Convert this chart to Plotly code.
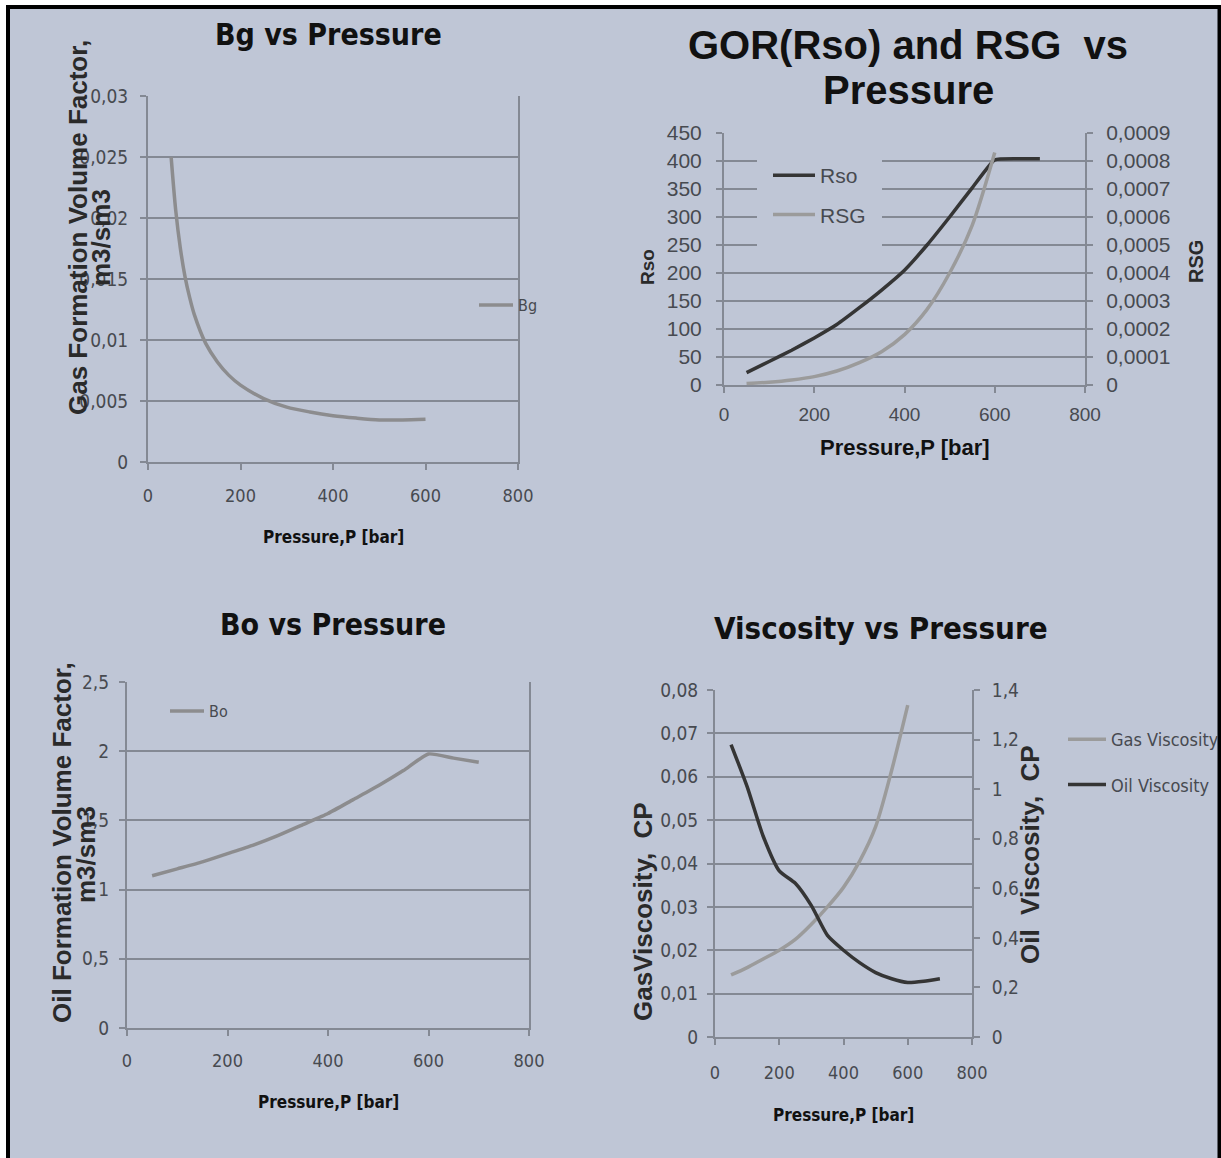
import plotly.graph_objects as go

W, H = 1221, 1158

# ---------------- data ----------------
P_TICKS = [0, 200, 400, 600, 800]
P_TICK_LABELS = ["0", "200", "400", "600", "800"]

# Bg vs Pressure
P_BG = [50, 60, 70, 80, 90, 100, 125, 150, 175, 200, 250, 300, 350, 400, 450, 500, 550, 600]
BG = [0.0250, 0.0206, 0.0175, 0.0152, 0.0135, 0.0121, 0.0097, 0.0082, 0.0071, 0.0063,
      0.0052, 0.0045, 0.0041, 0.0038, 0.0036, 0.00345, 0.00345, 0.0035]
BG_TICKS = [0, 0.005, 0.01, 0.015, 0.02, 0.025, 0.03]
BG_TICK_LABELS = ["0", "0,005", "0,01", "0,015", "0,02", "0,025", "0,03"]

# GOR (Rso) and RSG vs Pressure
P_RSO = [50, 100, 150, 200, 250, 300, 350, 400, 450, 500, 550, 600, 650, 700]
RSO = [22, 42, 62, 84, 108, 138, 170, 205, 250, 300, 352, 402, 404, 404]
P_RSG = [50, 100, 150, 200, 250, 300, 350, 400, 450, 500, 550, 600]
RSG = [0.000005, 0.00001, 0.000018, 0.00003, 0.00005, 0.00008, 0.00012, 0.00018,
       0.00027, 0.0004, 0.00057, 0.00083]
RSO_TICKS = [0, 50, 100, 150, 200, 250, 300, 350, 400, 450]
RSO_TICK_LABELS = [str(v) for v in RSO_TICKS]
RSG_TICKS = [0, 0.0001, 0.0002, 0.0003, 0.0004, 0.0005, 0.0006, 0.0007, 0.0008, 0.0009]
RSG_TICK_LABELS = ["0", "0,0001", "0,0002", "0,0003", "0,0004", "0,0005", "0,0006",
                   "0,0007", "0,0008", "0,0009"]

# Bo vs Pressure
P_BO = [50, 100, 150, 200, 250, 300, 350, 400, 450, 500, 550, 600, 650, 700]
BO = [1.10, 1.15, 1.20, 1.26, 1.32, 1.39, 1.47, 1.55, 1.65, 1.75, 1.86, 1.98, 1.95, 1.92]
BO_TICKS = [0, 0.5, 1, 1.5, 2, 2.5]
BO_TICK_LABELS = ["0", "0,5", "1", "1,5", "2", "2,5"]

# Viscosity vs Pressure
P_GASV = [50, 100, 150, 200, 250, 300, 350, 400, 450, 500, 550, 600]
GAS_VISC = [0.0143, 0.0160, 0.0180, 0.0200, 0.0225, 0.0260, 0.0300, 0.0345, 0.0405,
            0.0485, 0.0615, 0.0765]
P_OILV = [50, 100, 150, 200, 250, 300, 350, 400, 450, 500, 550, 600, 650, 700]
OIL_VISC = [1.18, 1.01, 0.81, 0.67, 0.62, 0.53, 0.41, 0.35, 0.30, 0.26, 0.235, 0.22,
            0.225, 0.235]
GASV_TICKS = [0, 0.01, 0.02, 0.03, 0.04, 0.05, 0.06, 0.07, 0.08]
GASV_TICK_LABELS = ["0", "0,01", "0,02", "0,03", "0,04", "0,05", "0,06", "0,07", "0,08"]
OILV_TICKS = [0, 0.2, 0.4, 0.6, 0.8, 1, 1.2, 1.4]
OILV_TICK_LABELS = ["0", "0,2", "0,4", "0,6", "0,8", "1", "1,2", "1,4"]

# ---------------- styles ----------------
BG_COL = "#bfc6d6"
GRID = "#848994"
TICKCOL = "#474a50"
TITLECOL = "#111111"
NARROW = "DejaVu Sans Condensed, sans-serif"
REG = "Liberation Sans, Arial, sans-serif"
LIGHT = "#9b9b9b"
MID = "#8c8c8e"
DARK = "#353535"


def fx(px):
    return px / W


def fy(py):
    return 1 - py / H


def xcfg(x0, x1, anchor, font, size, standoff):
    return dict(domain=[fx(x0), fx(x1)], anchor=anchor, range=[0, 800],
                tickvals=P_TICKS, ticktext=P_TICK_LABELS, showgrid=False,
                zeroline=False, showline=True, linecolor=GRID, linewidth=2,
                ticks="outside", ticklen=6, tickcolor=GRID, tickwidth=2,
                ticklabelstandoff=standoff,
                tickfont=dict(family=font, size=size, color=TICKCOL))


def ycfg(y0, y1, anchor, rng, tv, tt, font, size, standoff, mirror=False):
    return dict(domain=[fy(y1), fy(y0)], anchor=anchor, range=rng, tickvals=tv,
                ticktext=tt, showgrid=True, gridcolor=GRID, gridwidth=2,
                zeroline=False, showline=True, linecolor=GRID, linewidth=2,
                mirror=mirror, ticks="outside", ticklen=6, tickcolor=GRID,
                tickwidth=2, ticklabelstandoff=standoff,
                tickfont=dict(family=font, size=size, color=TICKCOL))


fig = go.Figure()

# Bg
fig.add_trace(go.Scatter(x=P_BG, y=BG, name="Bg", mode="lines",
                         line=dict(color=MID, width=3.5, shape="spline", smoothing=0.8),
                         xaxis="x", yaxis="y", legend="legend"))
# GOR
fig.add_trace(go.Scatter(x=P_RSO, y=RSO, name="Rso", mode="lines", legendgroup="a",
                         line=dict(color=DARK, width=3.5, shape="spline", smoothing=0.4),
                         xaxis="x2", yaxis="y2", legend="legend2"))
fig.add_trace(go.Scatter(x=P_RSG, y=RSG, name="RSG", mode="lines", legendgroup="b",
                         line=dict(color=LIGHT, width=3.5, shape="spline", smoothing=0.8),
                         xaxis="x2", yaxis="y3", legend="legend2"))
# Bo
fig.add_trace(go.Scatter(x=P_BO, y=BO, name="Bo", mode="lines",
                         line=dict(color=MID, width=3.5, shape="spline", smoothing=0.5),
                         xaxis="x3", yaxis="y4", legend="legend3"))
# Viscosity
fig.add_trace(go.Scatter(x=P_GASV, y=GAS_VISC, name="Gas Viscosity", mode="lines",
                         legendgroup="g",
                         line=dict(color=LIGHT, width=3.5, shape="spline", smoothing=0.8),
                         xaxis="x4", yaxis="y5", legend="legend4"))
fig.add_trace(go.Scatter(x=P_OILV, y=OIL_VISC, name="Oil Viscosity", mode="lines",
                         legendgroup="o",
                         line=dict(color=DARK, width=3.5, shape="spline", smoothing=0.6),
                         xaxis="x4", yaxis="y6", legend="legend4"))

layout = dict(
    width=W, height=H, margin=dict(l=0, r=0, t=0, b=0, autoexpand=False),
    paper_bgcolor="white", plot_bgcolor="rgba(0,0,0,0)",
    separators=", ", showlegend=True,
    # Bg
    xaxis=xcfg(148, 518, "y", NARROW, 18, 10),
    yaxis=ycfg(96, 462, "x", [0, 0.03], BG_TICKS, BG_TICK_LABELS, NARROW, 19, 8, True),
    # GOR
    xaxis2=xcfg(724, 1085, "y2", REG, 19, 5),
    yaxis2=ycfg(133, 385, "x2", [0, 450], RSO_TICKS, RSO_TICK_LABELS, REG, 21, 10),
    # Bo
    xaxis3=xcfg(127, 529, "y4", NARROW, 18, 9),
    yaxis4=ycfg(682, 1028, "x3", [0, 2.5], BO_TICKS, BO_TICK_LABELS, NARROW, 19, 6, True),
    # Viscosity
    xaxis4=xcfg(715, 972, "y5", NARROW, 18, 12),
    yaxis5=ycfg(690, 1037, "x4", [0, 0.08], GASV_TICKS, GASV_TICK_LABELS, NARROW, 19, 5),
)
rsg_axis = ycfg(133, 385, "x2", [0, 0.0009], RSG_TICKS, RSG_TICK_LABELS, REG, 21, 9)
rsg_axis.update(overlaying="y2", side="right", showgrid=False)
layout["yaxis3"] = rsg_axis
oil_axis = ycfg(690, 1037, "x4", [0, 1.4], OILV_TICKS, OILV_TICK_LABELS, NARROW, 19, 8)
oil_axis.update(overlaying="y5", side="right", showgrid=False)
layout["yaxis6"] = oil_axis

leg_common = dict(bgcolor="rgba(0,0,0,0)", borderwidth=0, xanchor="left", yanchor="top",
                  itemwidth=30, tracegroupgap=0, visible=True)
layout["legend"] = dict(leg_common, x=fx(474), y=fy(288), itemwidth=34,
                        font=dict(family=NARROW, size=16, color=TICKCOL))
layout["legend2"] = dict(leg_common, x=fx(768), y=fy(155), tracegroupgap=9, itemwidth=42,
                         bgcolor=BG_COL,
                         font=dict(family=REG, size=21, color=TICKCOL))
layout["legend3"] = dict(leg_common, x=fx(165), y=fy(694), itemwidth=34,
                         font=dict(family=NARROW, size=16, color=TICKCOL))
layout["legend4"] = dict(leg_common, x=fx(1063), y=fy(721), tracegroupgap=19, itemwidth=38,
                         font=dict(family=NARROW, size=18, color=TICKCOL))

fig.update_layout(**layout)

# frame and legend mask
fig.add_shape(type="rect", xref="paper", yref="paper", x0=fx(8), x1=fx(1219.5),
              y0=-0.02, y1=fy(7), line=dict(color="black", width=4),
              fillcolor=BG_COL, layer="below")
fig.add_shape(type="rect", xref="paper", yref="paper", x0=fx(757), x1=fx(882),
              y0=fy(252), y1=fy(150), line=dict(width=0), fillcolor=BG_COL,
              layer="above")


def ann(text, x, y, size, family, angle=0, color=TITLECOL, bold=True):
    t = f"<b>{text}</b>" if bold else text
    fig.add_annotation(text=t, x=fx(x), y=fy(y), xref="paper", yref="paper",
                       showarrow=False, textangle=angle, xanchor="center",
                       yanchor="middle", font=dict(family=family, size=size, color=color))


# titles
ann("Bg vs Pressure", 328, 35, 30, NARROW)
ann("GOR(Rso) and RSG&nbsp; vs", 908, 45, 40, REG)
ann("Pressure", 908, 90, 40, REG)
ann("Bo vs Pressure", 333, 624, 30, NARROW)
ann("Viscosity vs Pressure", 881, 628, 31, NARROW)

# x titles
ann("Pressure,P [bar]", 333, 537, 17, NARROW)
ann("Pressure,P [bar]", 905, 448, 22, REG)
ann("Pressure,P [bar]", 328, 1102, 17, NARROW)
ann("Pressure,P [bar]", 843, 1115, 17, NARROW)

# y titles
ann("Gas Formation Volume Factor,", 78, 228, 26, REG, -90, "#2a2a2a")
ann("m3/sm3", 101, 238, 26, REG, -90, "#2a2a2a")
ann("Rso", 648, 267, 19, REG, -90, "#2a2a2a")
ann("RSG", 1196, 262, 20, REG, -90, "#2a2a2a")
ann("Oil Formation Volume Factor,", 62, 843, 26, REG, -90, "#2a2a2a")
ann("m3/sm3", 86, 855, 26, REG, -90, "#2a2a2a")
ann("GasViscosity,&nbsp; CP", 643, 912, 26, REG, -90, "#2a2a2a")
ann("Oil&nbsp; Viscosity,&nbsp; CP", 1030, 855, 26, REG, -90, "#2a2a2a")

fig.write_html("out.html")
